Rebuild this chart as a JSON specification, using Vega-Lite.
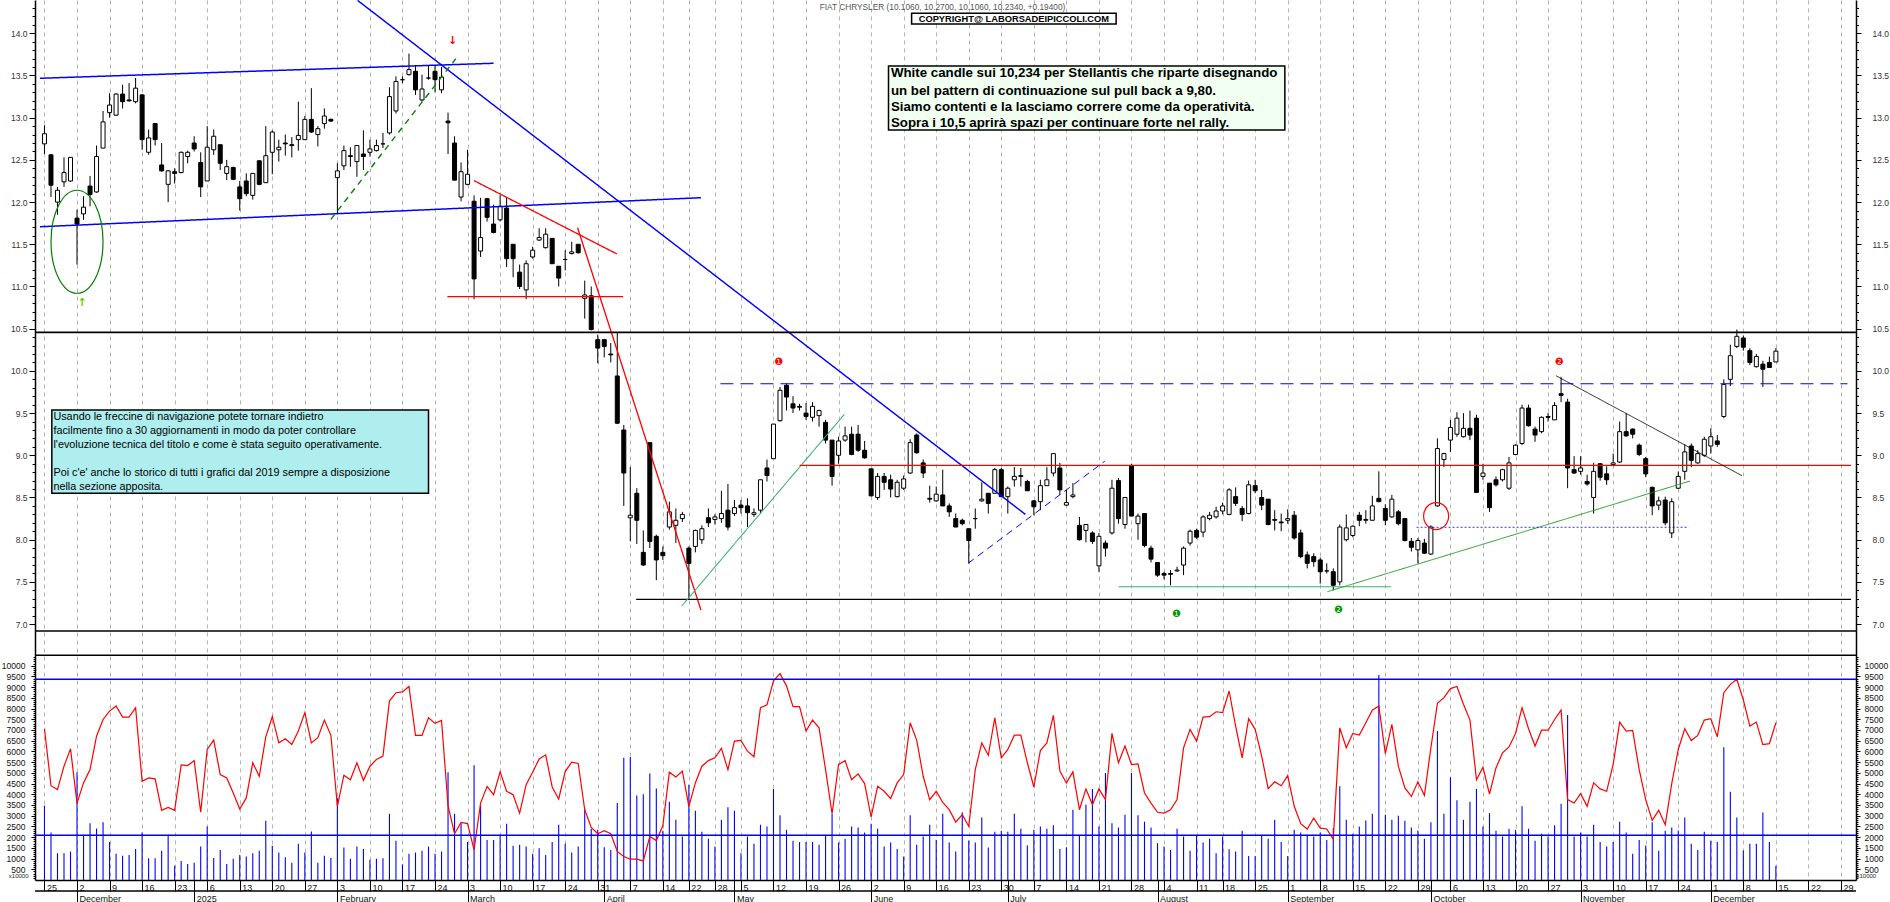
{
"$schema": "https://vega.github.io/schema/vega-lite/v6.json",
"width": 1821, "height": 880,
"autosize": "none",
"padding": {"left": 35, "top": 0, "right": 34, "bottom": 22},
"background": "white",
"config": {"view": {"stroke": null}, "font": "Liberation Sans", "axis": {"labelFont": "Liberation Sans"}},
"resolve": {"scale": {"y": "independent", "color": "independent", "strokeDash": "independent", "strokeWidth": "independent", "fill": "independent"}, "axis": {"x": "independent", "y": "independent"}},
"datasets": {
"candles": [
{"i":0,"o":12.69,"h":12.91,"l":12.57,"c":12.81,"v":3470,"r":7060},
{"i":1,"o":12.56,"h":12.57,"l":12.06,"c":12.2,"v":2220,"r":4400},
{"i":2,"o":12.0,"h":12.18,"l":11.85,"c":12.14,"v":1250,"r":4220},
{"i":3,"o":12.24,"h":12.53,"l":12.18,"c":12.35,"v":1250,"r":5310},
{"i":4,"o":12.25,"h":12.53,"l":12.24,"c":12.53,"v":1330,"r":6120},
{"i":5,"o":11.81,"h":11.91,"l":11.26,"c":11.74,"v":5030,"r":3590},
{"i":6,"o":11.86,"h":12.07,"l":11.79,"c":11.94,"v":2110,"r":4530},
{"i":7,"o":12.19,"h":12.31,"l":11.95,"c":12.09,"v":2650,"r":5150},
{"i":8,"o":12.12,"h":12.67,"l":12.11,"c":12.54,"v":2400,"r":6710},
{"i":9,"o":12.64,"h":13.08,"l":12.64,"c":12.95,"v":2690,"r":7490},
{"i":10,"o":13.06,"h":13.29,"l":13.0,"c":13.15,"v":1770,"r":7880},
{"i":11,"o":13.03,"h":13.29,"l":13.02,"c":13.28,"v":1220,"r":8120},
{"i":12,"o":13.28,"h":13.39,"l":13.11,"c":13.19,"v":1130,"r":7600},
{"i":13,"o":13.21,"h":13.41,"l":13.19,"c":13.2,"v":1170,"r":7600},
{"i":14,"o":13.19,"h":13.47,"l":13.17,"c":13.35,"v":1450,"r":8040},
{"i":15,"o":13.27,"h":13.28,"l":12.62,"c":12.74,"v":2220,"r":4610},
{"i":16,"o":12.59,"h":12.86,"l":12.56,"c":12.76,"v":1020,"r":4760},
{"i":17,"o":12.93,"h":12.93,"l":12.67,"c":12.74,"v":1020,"r":4720},
{"i":18,"o":12.44,"h":12.7,"l":12.36,"c":12.37,"v":1360,"r":3250},
{"i":19,"o":12.21,"h":12.38,"l":12.0,"c":12.37,"v":2110,"r":3390},
{"i":20,"o":12.36,"h":12.4,"l":12.22,"c":12.34,"v":660,"r":3250},
{"i":21,"o":12.35,"h":12.6,"l":12.34,"c":12.59,"v":890,"r":5370},
{"i":22,"o":12.54,"h":12.61,"l":12.46,"c":12.59,"v":750,"r":5340},
{"i":23,"o":12.7,"h":12.78,"l":12.6,"c":12.63,"v":810,"r":5570},
{"i":24,"o":12.47,"h":12.59,"l":12.06,"c":12.18,"v":1560,"r":3160},
{"i":25,"o":12.25,"h":12.9,"l":12.25,"c":12.65,"v":2500,"r":6090},
{"i":26,"o":12.62,"h":12.86,"l":12.56,"c":12.78,"v":1030,"r":6530},
{"i":27,"o":12.68,"h":12.68,"l":12.38,"c":12.46,"v":1400,"r":4920},
{"i":28,"o":12.34,"h":12.5,"l":12.26,"c":12.42,"v":750,"r":4760},
{"i":29,"o":12.41,"h":12.42,"l":12.26,"c":12.27,"v":990,"r":4060},
{"i":30,"o":12.18,"h":12.25,"l":11.9,"c":12.04,"v":1170,"r":3310},
{"i":31,"o":12.25,"h":12.34,"l":12.07,"c":12.1,"v":1100,"r":3830},
{"i":32,"o":12.08,"h":12.34,"l":12.03,"c":12.34,"v":1250,"r":5470},
{"i":33,"o":12.49,"h":12.49,"l":12.2,"c":12.21,"v":1360,"r":4840},
{"i":34,"o":12.23,"h":12.9,"l":12.23,"c":12.55,"v":2770,"r":6680},
{"i":35,"o":12.59,"h":12.85,"l":12.33,"c":12.83,"v":1600,"r":7620},
{"i":36,"o":12.62,"h":12.74,"l":12.48,"c":12.65,"v":1280,"r":6400},
{"i":37,"o":12.7,"h":12.8,"l":12.55,"c":12.69,"v":1060,"r":6590},
{"i":38,"o":12.68,"h":12.77,"l":12.53,"c":12.67,"v":810,"r":6320},
{"i":39,"o":12.74,"h":13.19,"l":12.61,"c":12.79,"v":1690,"r":6950},
{"i":40,"o":12.74,"h":13.02,"l":12.74,"c":12.98,"v":1280,"r":7810},
{"i":41,"o":12.98,"h":13.35,"l":12.82,"c":12.83,"v":2260,"r":6400},
{"i":42,"o":12.8,"h":12.9,"l":12.66,"c":12.87,"v":810,"r":6640},
{"i":43,"o":12.93,"h":13.11,"l":12.87,"c":13.02,"v":1130,"r":7460},
{"i":44,"o":12.98,"h":12.99,"l":12.95,"c":12.96,"v":1030,"r":6750},
{"i":45,"o":12.29,"h":12.46,"l":11.87,"c":12.37,"v":3830,"r":3440},
{"i":46,"o":12.43,"h":12.67,"l":12.38,"c":12.61,"v":1520,"r":4890},
{"i":47,"o":12.55,"h":12.65,"l":12.42,"c":12.54,"v":990,"r":4680},
{"i":48,"o":12.48,"h":12.67,"l":12.3,"c":12.67,"v":1560,"r":5470},
{"i":49,"o":12.57,"h":12.85,"l":12.38,"c":12.54,"v":1450,"r":4650},
{"i":50,"o":12.59,"h":12.74,"l":12.54,"c":12.63,"v":940,"r":5310},
{"i":51,"o":12.61,"h":12.74,"l":12.6,"c":12.67,"v":990,"r":5620},
{"i":52,"o":12.69,"h":12.82,"l":12.64,"c":12.69,"v":1020,"r":5780},
{"i":53,"o":12.82,"h":13.36,"l":12.8,"c":13.25,"v":3090,"r":8350},
{"i":54,"o":13.08,"h":13.49,"l":13.05,"c":13.43,"v":1830,"r":8740},
{"i":55,"o":13.45,"h":13.49,"l":13.41,"c":13.45,"v":730,"r":8780},
{"i":56,"o":13.51,"h":13.76,"l":13.5,"c":13.57,"v":1220,"r":9030},
{"i":57,"o":13.55,"h":13.62,"l":13.27,"c":13.33,"v":1280,"r":6750},
{"i":58,"o":13.21,"h":13.51,"l":13.19,"c":13.34,"v":1360,"r":6750},
{"i":59,"o":13.47,"h":13.62,"l":13.45,"c":13.47,"v":1560,"r":7570},
{"i":60,"o":13.55,"h":13.62,"l":13.3,"c":13.45,"v":1220,"r":7310},
{"i":61,"o":13.33,"h":13.6,"l":13.29,"c":13.48,"v":1330,"r":7450},
{"i":62,"o":12.96,"h":13.06,"l":12.57,"c":12.94,"v":5030,"r":3470},
{"i":63,"o":12.7,"h":12.78,"l":12.26,"c":12.26,"v":3090,"r":2160},
{"i":64,"o":12.06,"h":12.47,"l":12.01,"c":12.36,"v":2650,"r":2690},
{"i":65,"o":12.21,"h":12.62,"l":12.2,"c":12.33,"v":1770,"r":2630},
{"i":66,"o":12.01,"h":12.08,"l":10.85,"c":11.09,"v":5360,"r":1410},
{"i":67,"o":11.42,"h":12.05,"l":11.35,"c":11.58,"v":3480,"r":3590},
{"i":68,"o":12.04,"h":12.05,"l":11.77,"c":11.82,"v":1870,"r":4370},
{"i":69,"o":11.74,"h":11.97,"l":11.63,"c":11.64,"v":1870,"r":3980},
{"i":70,"o":11.79,"h":12.08,"l":11.77,"c":11.95,"v":2110,"r":5050},
{"i":71,"o":11.93,"h":12.06,"l":11.23,"c":11.33,"v":2620,"r":4140},
{"i":72,"o":11.5,"h":11.5,"l":11.11,"c":11.33,"v":1600,"r":3980},
{"i":73,"o":11.17,"h":11.26,"l":10.97,"c":11.0,"v":1640,"r":3120},
{"i":74,"o":10.96,"h":11.31,"l":10.85,"c":11.27,"v":1560,"r":4450},
{"i":75,"o":11.35,"h":11.47,"l":11.33,"c":11.43,"v":1220,"r":5030},
{"i":76,"o":11.55,"h":11.69,"l":11.54,"c":11.58,"v":1480,"r":5650},
{"i":77,"o":11.46,"h":11.69,"l":11.45,"c":11.62,"v":1170,"r":5840},
{"i":78,"o":11.57,"h":11.57,"l":11.27,"c":11.27,"v":1770,"r":4340},
{"i":79,"o":11.24,"h":11.24,"l":11.0,"c":11.1,"v":2580,"r":3780},
{"i":80,"o":11.32,"h":11.43,"l":11.19,"c":11.32,"v":1690,"r":5060},
{"i":81,"o":11.39,"h":11.53,"l":11.38,"c":11.41,"v":1280,"r":5500},
{"i":82,"o":11.5,"h":11.5,"l":11.39,"c":11.4,"v":1560,"r":5440},
{"i":83,"o":10.86,"h":11.07,"l":10.62,"c":10.9,"v":3310,"r":3280},
{"i":84,"o":10.89,"h":11.0,"l":10.48,"c":10.49,"v":2390,"r":2450},
{"i":85,"o":10.37,"h":10.43,"l":10.09,"c":10.27,"v":2340,"r":2160},
{"i":86,"o":10.37,"h":10.38,"l":10.16,"c":10.29,"v":1530,"r":2300},
{"i":87,"o":10.2,"h":10.33,"l":10.1,"c":10.19,"v":1400,"r":2160},
{"i":88,"o":9.94,"h":10.45,"l":9.37,"c":9.38,"v":3590,"r":1330},
{"i":89,"o":9.3,"h":9.36,"l":8.4,"c":8.79,"v":5700,"r":1100},
{"i":90,"o":8.26,"h":8.86,"l":7.98,"c":8.29,"v":5740,"r":970},
{"i":91,"o":8.55,"h":8.61,"l":7.95,"c":8.23,"v":3940,"r":970},
{"i":92,"o":7.85,"h":8.11,"l":7.69,"c":7.7,"v":4000,"r":890},
{"i":93,"o":9.15,"h":9.15,"l":7.9,"c":7.98,"v":4970,"r":2030},
{"i":94,"o":8.04,"h":8.06,"l":7.52,"c":7.76,"v":4270,"r":1840},
{"i":95,"o":7.85,"h":7.92,"l":7.76,"c":7.81,"v":2300,"r":2530},
{"i":96,"o":8.15,"h":8.45,"l":8.12,"c":8.33,"v":3650,"r":5030},
{"i":97,"o":8.17,"h":8.37,"l":7.96,"c":8.23,"v":2810,"r":4810},
{"i":98,"o":8.25,"h":8.33,"l":8.21,"c":8.3,"v":2030,"r":5080},
{"i":99,"o":7.9,"h":7.92,"l":7.29,"c":7.72,"v":4450,"r":3440},
{"i":100,"o":7.92,"h":8.12,"l":7.85,"c":8.11,"v":3230,"r":4530},
{"i":101,"o":8.0,"h":8.17,"l":7.95,"c":8.13,"v":2250,"r":5310},
{"i":102,"o":8.26,"h":8.37,"l":8.15,"c":8.2,"v":1920,"r":5570},
{"i":103,"o":8.24,"h":8.3,"l":8.18,"c":8.27,"v":1560,"r":5700},
{"i":104,"o":8.25,"h":8.58,"l":8.2,"c":8.31,"v":2810,"r":6140},
{"i":105,"o":8.35,"h":8.66,"l":8.11,"c":8.15,"v":3390,"r":5150},
{"i":106,"o":8.31,"h":8.47,"l":8.28,"c":8.38,"v":3230,"r":6480},
{"i":107,"o":8.41,"h":8.47,"l":8.31,"c":8.38,"v":1250,"r":6510},
{"i":108,"o":8.4,"h":8.49,"l":8.15,"c":8.32,"v":2030,"r":6010},
{"i":109,"o":8.3,"h":8.37,"l":8.27,"c":8.32,"v":1690,"r":5750},
{"i":110,"o":8.35,"h":8.71,"l":8.31,"c":8.71,"v":2580,"r":8040},
{"i":111,"o":8.85,"h":8.95,"l":8.69,"c":8.76,"v":2500,"r":8170},
{"i":112,"o":8.96,"h":9.37,"l":8.96,"c":9.37,"v":4250,"r":9290},
{"i":113,"o":9.41,"h":9.81,"l":9.4,"c":9.77,"v":3020,"r":9630},
{"i":114,"o":9.83,"h":9.85,"l":9.53,"c":9.69,"v":2340,"r":9060},
{"i":115,"o":9.61,"h":9.7,"l":9.5,"c":9.56,"v":1830,"r":8090},
{"i":116,"o":9.58,"h":9.61,"l":9.53,"c":9.57,"v":1770,"r":8090},
{"i":117,"o":9.5,"h":9.62,"l":9.42,"c":9.46,"v":1770,"r":6950},
{"i":118,"o":9.45,"h":9.63,"l":9.4,"c":9.58,"v":1770,"r":7460},
{"i":119,"o":9.47,"h":9.54,"l":9.34,"c":9.53,"v":1640,"r":7100},
{"i":120,"o":9.39,"h":9.42,"l":9.14,"c":9.18,"v":2080,"r":5150},
{"i":121,"o":9.18,"h":9.18,"l":8.64,"c":8.75,"v":3080,"r":3090},
{"i":122,"o":9.0,"h":9.22,"l":8.9,"c":9.17,"v":1750,"r":5390},
{"i":123,"o":9.18,"h":9.34,"l":9.16,"c":9.23,"v":1920,"r":5570},
{"i":124,"o":9.25,"h":9.34,"l":9.0,"c":9.01,"v":2500,"r":4680},
{"i":125,"o":9.25,"h":9.36,"l":9.04,"c":9.06,"v":2450,"r":4950},
{"i":126,"o":9.06,"h":9.17,"l":8.96,"c":8.97,"v":2220,"r":4500},
{"i":127,"o":8.84,"h":8.84,"l":8.51,"c":8.52,"v":2620,"r":2940},
{"i":128,"o":8.5,"h":8.79,"l":8.47,"c":8.75,"v":2390,"r":4370},
{"i":129,"o":8.75,"h":8.79,"l":8.59,"c":8.68,"v":1560,"r":4140},
{"i":130,"o":8.71,"h":8.77,"l":8.5,"c":8.6,"v":1750,"r":3800},
{"i":131,"o":8.51,"h":8.71,"l":8.5,"c":8.68,"v":1450,"r":4530},
{"i":132,"o":8.61,"h":8.76,"l":8.59,"c":8.72,"v":1100,"r":4920},
{"i":133,"o":8.79,"h":9.19,"l":8.78,"c":9.15,"v":3020,"r":7340},
{"i":134,"o":9.24,"h":9.26,"l":9.02,"c":9.03,"v":1640,"r":6530},
{"i":135,"o":8.91,"h":8.95,"l":8.73,"c":8.79,"v":2030,"r":4840},
{"i":136,"o":8.49,"h":8.64,"l":8.44,"c":8.48,"v":2580,"r":3750},
{"i":137,"o":8.46,"h":8.63,"l":8.45,"c":8.54,"v":1870,"r":4140},
{"i":138,"o":8.53,"h":8.83,"l":8.4,"c":8.4,"v":3090,"r":3620},
{"i":139,"o":8.4,"h":8.43,"l":8.27,"c":8.33,"v":1750,"r":3280},
{"i":140,"o":8.25,"h":8.31,"l":8.15,"c":8.15,"v":1330,"r":2700},
{"i":141,"o":8.23,"h":8.25,"l":8.17,"c":8.19,"v":3160,"r":3050},
{"i":142,"o":8.13,"h":8.13,"l":7.72,"c":7.99,"v":1840,"r":2500},
{"i":143,"o":8.25,"h":8.37,"l":8.13,"c":8.25,"v":1750,"r":5150},
{"i":144,"o":8.46,"h":8.68,"l":8.45,"c":8.48,"v":2920,"r":6400},
{"i":145,"o":8.55,"h":8.55,"l":8.31,"c":8.43,"v":1520,"r":5820},
{"i":146,"o":8.55,"h":8.85,"l":8.55,"c":8.83,"v":2250,"r":7570},
{"i":147,"o":8.83,"h":8.85,"l":8.51,"c":8.51,"v":2300,"r":5700},
{"i":148,"o":8.51,"h":8.63,"l":8.31,"c":8.61,"v":2250,"r":6090},
{"i":149,"o":8.71,"h":8.86,"l":8.63,"c":8.75,"v":3090,"r":6760},
{"i":150,"o":8.76,"h":8.85,"l":8.63,"c":8.75,"v":2390,"r":6760},
{"i":151,"o":8.69,"h":8.71,"l":8.58,"c":8.58,"v":1610,"r":5470},
{"i":152,"o":8.46,"h":8.47,"l":8.29,"c":8.39,"v":2340,"r":4340},
{"i":153,"o":8.45,"h":8.71,"l":8.35,"c":8.64,"v":2500,"r":6040},
{"i":154,"o":8.64,"h":8.86,"l":8.64,"c":8.71,"v":2390,"r":6400},
{"i":155,"o":8.79,"h":9.02,"l":8.75,"c":9.02,"v":2550,"r":7680},
{"i":156,"o":8.85,"h":8.91,"l":8.53,"c":8.59,"v":1450,"r":5080},
{"i":157,"o":8.41,"h":8.59,"l":8.4,"c":8.44,"v":1530,"r":4530},
{"i":158,"o":8.51,"h":8.67,"l":8.49,"c":8.53,"v":3280,"r":5050},
{"i":159,"o":8.17,"h":8.27,"l":7.99,"c":8.0,"v":2080,"r":3280},
{"i":160,"o":8.11,"h":8.18,"l":7.97,"c":8.18,"v":3510,"r":4250},
{"i":161,"o":8.08,"h":8.1,"l":7.95,"c":7.98,"v":4250,"r":3520},
{"i":162,"o":7.69,"h":8.08,"l":7.62,"c":8.04,"v":2500,"r":4250},
{"i":163,"o":7.96,"h":7.99,"l":7.8,"c":7.9,"v":4990,"r":3750},
{"i":164,"o":8.08,"h":8.71,"l":8.06,"c":8.61,"v":2650,"r":6840},
{"i":165,"o":8.7,"h":8.73,"l":8.19,"c":8.25,"v":2450,"r":5470},
{"i":166,"o":8.18,"h":8.5,"l":8.13,"c":8.5,"v":3050,"r":6250},
{"i":167,"o":8.88,"h":8.9,"l":8.28,"c":8.28,"v":4990,"r":5390},
{"i":168,"o":8.19,"h":8.31,"l":8.0,"c":8.28,"v":3020,"r":5420},
{"i":169,"o":8.31,"h":8.31,"l":7.91,"c":7.93,"v":2720,"r":4060},
{"i":170,"o":7.9,"h":7.93,"l":7.73,"c":7.77,"v":2450,"r":3590},
{"i":171,"o":7.73,"h":7.73,"l":7.56,"c":7.58,"v":1720,"r":3160},
{"i":172,"o":7.6,"h":7.62,"l":7.53,"c":7.58,"v":1560,"r":3120},
{"i":173,"o":7.6,"h":7.64,"l":7.46,"c":7.59,"v":1400,"r":3280},
{"i":174,"o":7.63,"h":7.68,"l":7.62,"c":7.64,"v":2390,"r":3750},
{"i":175,"o":7.7,"h":7.92,"l":7.58,"c":7.9,"v":2030,"r":6170},
{"i":176,"o":7.96,"h":8.12,"l":7.93,"c":8.1,"v":1360,"r":7030},
{"i":177,"o":8.11,"h":8.13,"l":8.01,"c":8.03,"v":2080,"r":6480},
{"i":178,"o":8.09,"h":8.29,"l":8.03,"c":8.27,"v":1750,"r":7600},
{"i":179,"o":8.25,"h":8.33,"l":8.23,"c":8.29,"v":1920,"r":7620},
{"i":180,"o":8.27,"h":8.39,"l":8.25,"c":8.34,"v":1250,"r":7850},
{"i":181,"o":8.34,"h":8.44,"l":8.3,"c":8.4,"v":2030,"r":7810},
{"i":182,"o":8.3,"h":8.61,"l":8.29,"c":8.59,"v":1440,"r":8820},
{"i":183,"o":8.51,"h":8.62,"l":8.4,"c":8.43,"v":1330,"r":7180},
{"i":184,"o":8.37,"h":8.4,"l":8.22,"c":8.3,"v":2300,"r":5700},
{"i":185,"o":8.31,"h":8.7,"l":8.3,"c":8.65,"v":1120,"r":7530},
{"i":186,"o":8.64,"h":8.71,"l":8.55,"c":8.58,"v":1120,"r":7030},
{"i":187,"o":8.5,"h":8.59,"l":8.35,"c":8.41,"v":2080,"r":5780},
{"i":188,"o":8.48,"h":8.48,"l":8.17,"c":8.18,"v":1920,"r":4260},
{"i":189,"o":8.24,"h":8.35,"l":8.11,"c":8.23,"v":2810,"r":4580},
{"i":190,"o":8.21,"h":8.31,"l":8.1,"c":8.2,"v":1770,"r":4400},
{"i":191,"o":8.23,"h":8.36,"l":8.19,"c":8.25,"v":1120,"r":4870},
{"i":192,"o":8.29,"h":8.34,"l":8.0,"c":8.02,"v":2340,"r":3440},
{"i":193,"o":8.08,"h":8.12,"l":7.78,"c":7.8,"v":2220,"r":2630},
{"i":194,"o":7.82,"h":7.86,"l":7.66,"c":7.72,"v":2110,"r":2380},
{"i":195,"o":7.8,"h":7.84,"l":7.68,"c":7.74,"v":2030,"r":2890},
{"i":196,"o":7.76,"h":7.79,"l":7.48,"c":7.62,"v":2220,"r":2420},
{"i":197,"o":7.63,"h":7.72,"l":7.6,"c":7.63,"v":1870,"r":2380},
{"i":198,"o":7.62,"h":7.66,"l":7.4,"c":7.46,"v":2420,"r":1900},
{"i":199,"o":7.5,"h":8.18,"l":7.46,"c":8.15,"v":4370,"r":7100},
{"i":200,"o":8.0,"h":8.3,"l":7.98,"c":8.14,"v":2810,"r":6170},
{"i":201,"o":8.05,"h":8.17,"l":8.03,"c":8.16,"v":2160,"r":6840},
{"i":202,"o":8.29,"h":8.33,"l":8.16,"c":8.23,"v":2500,"r":6760},
{"i":203,"o":8.23,"h":8.35,"l":8.19,"c":8.24,"v":2780,"r":7340},
{"i":204,"o":8.23,"h":8.52,"l":8.23,"c":8.4,"v":3090,"r":7920},
{"i":205,"o":8.49,"h":8.81,"l":8.45,"c":8.45,"v":9570,"r":8120},
{"i":206,"o":8.37,"h":8.42,"l":8.17,"c":8.23,"v":3050,"r":5900},
{"i":207,"o":8.27,"h":8.53,"l":8.26,"c":8.48,"v":2810,"r":7260},
{"i":208,"o":8.33,"h":8.35,"l":8.17,"c":8.19,"v":3000,"r":5310},
{"i":209,"o":8.25,"h":8.25,"l":7.98,"c":7.99,"v":2770,"r":4300},
{"i":210,"o":7.98,"h":8.02,"l":7.86,"c":7.91,"v":2450,"r":3900},
{"i":211,"o":7.88,"h":8.02,"l":7.72,"c":7.99,"v":2310,"r":4580},
{"i":212,"o":7.96,"h":8.01,"l":7.83,"c":7.84,"v":1920,"r":3950},
{"i":213,"o":7.83,"h":8.17,"l":7.82,"c":8.15,"v":2690,"r":6170},
{"i":214,"o":8.4,"h":9.2,"l":8.39,"c":9.08,"v":6950,"r":8240},
{"i":215,"o":8.95,"h":9.03,"l":8.86,"c":9.02,"v":3090,"r":8510},
{"i":216,"o":9.18,"h":9.42,"l":9.04,"c":9.33,"v":4800,"r":8930},
{"i":217,"o":9.25,"h":9.51,"l":9.22,"c":9.44,"v":3720,"r":9030},
{"i":218,"o":9.22,"h":9.5,"l":9.21,"c":9.32,"v":2810,"r":8200},
{"i":219,"o":9.32,"h":9.53,"l":9.18,"c":9.24,"v":3650,"r":7460},
{"i":220,"o":9.44,"h":9.48,"l":8.56,"c":8.56,"v":4250,"r":4680},
{"i":221,"o":8.75,"h":8.9,"l":8.71,"c":8.79,"v":2500,"r":5260},
{"i":222,"o":8.67,"h":8.67,"l":8.33,"c":8.38,"v":3120,"r":4010},
{"i":223,"o":8.71,"h":8.75,"l":8.63,"c":8.65,"v":2300,"r":5230},
{"i":224,"o":8.71,"h":8.84,"l":8.69,"c":8.83,"v":2030,"r":5930},
{"i":225,"o":8.61,"h":8.98,"l":8.59,"c":8.91,"v":2390,"r":6210},
{"i":226,"o":9.01,"h":9.13,"l":9.0,"c":9.12,"v":2340,"r":6840},
{"i":227,"o":9.14,"h":9.6,"l":9.12,"c":9.56,"v":3440,"r":8040},
{"i":228,"o":9.56,"h":9.6,"l":9.34,"c":9.35,"v":2390,"r":7060},
{"i":229,"o":9.31,"h":9.34,"l":9.16,"c":9.24,"v":1830,"r":6250},
{"i":230,"o":9.28,"h":9.46,"l":9.26,"c":9.45,"v":2160,"r":6990},
{"i":231,"o":9.46,"h":9.5,"l":9.4,"c":9.45,"v":2030,"r":6990},
{"i":232,"o":9.42,"h":9.63,"l":9.42,"c":9.59,"v":2550,"r":7490},
{"i":233,"o":9.73,"h":9.93,"l":9.63,"c":9.71,"v":3560,"r":7930},
{"i":234,"o":9.63,"h":9.67,"l":8.61,"c":8.85,"v":7700,"r":3750},
{"i":235,"o":8.83,"h":8.99,"l":8.78,"c":8.79,"v":2030,"r":3590},
{"i":236,"o":8.81,"h":8.99,"l":8.77,"c":8.85,"v":2220,"r":4030},
{"i":237,"o":8.69,"h":8.77,"l":8.64,"c":8.66,"v":2030,"r":3440},
{"i":238,"o":8.5,"h":8.91,"l":8.31,"c":8.81,"v":2580,"r":4530},
{"i":239,"o":8.9,"h":8.91,"l":8.7,"c":8.74,"v":1770,"r":4250},
{"i":240,"o":8.78,"h":8.87,"l":8.65,"c":8.71,"v":1560,"r":4140},
{"i":241,"o":8.89,"h":9.02,"l":8.87,"c":8.91,"v":1770,"r":5390},
{"i":242,"o":8.92,"h":9.4,"l":8.91,"c":9.28,"v":2720,"r":7370},
{"i":243,"o":9.28,"h":9.5,"l":9.22,"c":9.23,"v":2220,"r":6950},
{"i":244,"o":9.31,"h":9.32,"l":9.2,"c":9.25,"v":1220,"r":6980},
{"i":245,"o":9.12,"h":9.14,"l":8.99,"c":9.01,"v":1870,"r":5150},
{"i":246,"o":8.96,"h":8.98,"l":8.74,"c":8.78,"v":1610,"r":3750},
{"i":247,"o":8.62,"h":8.63,"l":8.29,"c":8.4,"v":2690,"r":2780},
{"i":248,"o":8.41,"h":8.51,"l":8.35,"c":8.46,"v":1360,"r":3250},
{"i":249,"o":8.47,"h":8.51,"l":8.17,"c":8.2,"v":2300,"r":2580},
{"i":250,"o":8.08,"h":8.49,"l":8.02,"c":8.45,"v":2450,"r":4500},
{"i":251,"o":8.61,"h":8.81,"l":8.6,"c":8.75,"v":2310,"r":6090},
{"i":252,"o":8.81,"h":9.13,"l":8.71,"c":9.04,"v":2920,"r":7060},
{"i":253,"o":9.11,"h":9.14,"l":8.86,"c":8.94,"v":1690,"r":6510},
{"i":254,"o":8.91,"h":9.06,"l":8.9,"c":9.02,"v":1400,"r":6750},
{"i":255,"o":9.0,"h":9.22,"l":8.98,"c":9.19,"v":2250,"r":7460},
{"i":256,"o":9.11,"h":9.32,"l":9.02,"c":9.22,"v":1830,"r":7530},
{"i":257,"o":9.17,"h":9.24,"l":9.1,"c":9.13,"v":1770,"r":6680},
{"i":258,"o":9.46,"h":9.9,"l":9.44,"c":9.84,"v":6200,"r":8740},
{"i":259,"o":9.9,"h":10.31,"l":9.82,"c":10.18,"v":4120,"r":9130},
{"i":260,"o":10.29,"h":10.49,"l":10.27,"c":10.41,"v":2920,"r":9370},
{"i":261,"o":10.39,"h":10.42,"l":10.24,"c":10.28,"v":1380,"r":8400},
{"i":262,"o":10.24,"h":10.27,"l":10.07,"c":10.1,"v":1690,"r":7180},
{"i":263,"o":10.05,"h":10.2,"l":10.04,"c":10.17,"v":1690,"r":7370},
{"i":264,"o":10.08,"h":10.12,"l":9.81,"c":10.02,"v":3150,"r":6320},
{"i":265,"o":10.1,"h":10.17,"l":10.04,"c":10.04,"v":1770,"r":6360},
{"i":266,"o":10.106,"h":10.27,"l":10.106,"c":10.234,"v":660,"r":7340}
],
"segs": [
{"x1":-0.69,"y1":13.467,"x2":69.0,"y2":13.645,"k":"blue"},
{"x1":-0.69,"y1":11.708,"x2":100.85,"y2":12.052,"k":"blue"},
{"x1":48.1,"y1":14.39,"x2":150.7,"y2":8.3,"k":"blueThin"},
{"x1":44.0,"y1":11.796,"x2":63.2,"y2":13.7,"k":"greenDash"},
{"x1":66.0,"y1":12.254,"x2":87.95,"y2":11.385,"k":"red"},
{"x1":61.9,"y1":10.879,"x2":88.9,"y2":10.879,"k":"redH"},
{"x1":81.9,"y1":11.697,"x2":100.85,"y2":7.167,"k":"red"},
{"x1":90.9,"y1":7.294,"x2":277.54,"y2":7.294,"k":"black"},
{"x1":103.85,"y1":9.848,"x2":277.0,"y2":9.848,"k":"blueDash"},
{"x1":97.9,"y1":7.214,"x2":122.9,"y2":9.486,"k":"sea"},
{"x1":116.0,"y1":8.881,"x2":277.54,"y2":8.881,"k":"redH"},
{"x1":141.9,"y1":7.72,"x2":162.9,"y2":8.93,"k":"blueDash2"},
{"x1":165.0,"y1":7.443,"x2":206.9,"y2":7.443,"k":"sea"},
{"x1":197.1,"y1":7.384,"x2":252.8,"y2":8.695,"k":"green"},
{"x1":232.2,"y1":9.943,"x2":260.8,"y2":8.758,"k":"blackThin"},
{"x1":210.8,"y1":8.147,"x2":252.6,"y2":8.147,"k":"blueDot"}
]
},
"layer": [
{
"data": {"name": "candles"},
"mark": {"type": "rule", "color": "black", "strokeWidth": 1},
"encoding": {
"x": {"field": "i", "type": "quantitative", "scale": {"domain": [-0.6875, 277.54], "nice": false, "zero": false},
 "axis": {"orient": "bottom", "title": null,
  "values": [0,5,10,15,20,25,30,35,40,45,50,55,60,65,70,75,80,85,90,95,99,103,107,112,117,122,127,132,137,142,147,152,157,162,167,172,177,181,186,191,196,201,206,211,216,221,226,231,236,241,246,251,256,261,266,271,276],
  "labelExpr": "['25','2','9','16','23','6','13','20','27','3','10','17','24','3','10','17','24','31','7','14','22','28','5','12','19','26','2','9','16','23','30','7','14','21','28','4','11','18','25','1','8','15','22','29','6','13','20','27','3','10','17','24','1','8','15','22','29'][indexof([0,5,10,15,20,25,30,35,40,45,50,55,60,65,70,75,80,85,90,95,99,103,107,112,117,122,127,132,137,142,147,152,157,162,167,172,177,181,186,191,196,201,206,211,216,221,226,231,236,241,246,251,256,261,266,271,276], datum.value)]",
  "grid": true, "gridDash": [4,4], "gridColor": "#b4b4b4", "gridWidth": 1,
  "domain": true, "domainColor": "black", "domainWidth": 1.5,
  "ticks": true, "tickSize": 11, "tickColor": "black", "tickWidth": 1,
  "labelAlign": "left", "labelBaseline": "top", "labelPadding": -8, "labelOffset": 2,
  "labelFontSize": 9, "labelColor": "#111", "labelOverlap": false, "labelFlush": false, "labelBound": false}},
"y": {"field": "l", "type": "quantitative", "scale": {"domain": [3.968, 14.3945], "nice": false, "zero": false},
 "axis": {"orient": "left", "title": null,
  "values": [7,7.1,7.2,7.3,7.4,7.5,7.6,7.7,7.8,7.9,8,8.1,8.2,8.3,8.4,8.5,8.6,8.7,8.8,8.9,9,9.1,9.2,9.3,9.4,9.5,9.6,9.7,9.8,9.9,10,10.1,10.2,10.3,10.4,10.5,10.6,10.7,10.8,10.9,11,11.1,11.2,11.3,11.4,11.5,11.6,11.7,11.8,11.9,12,12.1,12.2,12.3,12.4,12.5,12.6,12.7,12.8,12.9,13,13.1,13.2,13.3,13.4,13.5,13.6,13.7,13.8,13.9,14,14.1,14.2,14.3],
  "labelExpr": "abs(datum.value*2 - round(datum.value*2)) < 0.01 ? format(datum.value, '.1f') : ''",
  "grid": false, "domain": true, "domainColor": "black", "domainWidth": 1.5,
  "tickColor": "black", "tickWidth": 1,
  "tickSize": {"condition": {"test": "abs(datum.value*2 - round(datum.value*2)) < 0.01", "value": 6}, "value": 3},
  "labelPadding": 2, "labelFontSize": 8.5, "labelColor": "#333", "labelOverlap": false, "labelFlush": false, "labelBound": false}},
"y2": {"field": "h"}
}
},
{
"data": {"name": "candles"},
"mark": {"type": "bar", "size": 4, "stroke": "black", "strokeWidth": 1},
"encoding": {
"x": {"field": "i", "type": "quantitative", "scale": {"domain": [-0.6875, 277.54], "nice": false, "zero": false}, "axis": null},
"y": {"field": "o", "type": "quantitative", "scale": {"domain": [3.968, 14.3945], "nice": false, "zero": false},
 "axis": {"orient": "right", "title": null,
  "values": [7,7.1,7.2,7.3,7.4,7.5,7.6,7.7,7.8,7.9,8,8.1,8.2,8.3,8.4,8.5,8.6,8.7,8.8,8.9,9,9.1,9.2,9.3,9.4,9.5,9.6,9.7,9.8,9.9,10,10.1,10.2,10.3,10.4,10.5,10.6,10.7,10.8,10.9,11,11.1,11.2,11.3,11.4,11.5,11.6,11.7,11.8,11.9,12,12.1,12.2,12.3,12.4,12.5,12.6,12.7,12.8,12.9,13,13.1,13.2,13.3,13.4,13.5,13.6,13.7,13.8,13.9,14,14.1,14.2,14.3],
  "labelExpr": "abs(datum.value*2 - round(datum.value*2)) < 0.01 ? format(datum.value, '.1f') : ''",
  "grid": false, "domain": true, "domainColor": "black", "domainWidth": 1.5,
  "tickColor": "black", "tickWidth": 1,
  "tickSize": {"condition": {"test": "abs(datum.value*2 - round(datum.value*2)) < 0.01", "value": 5}, "value": 2.5},
  "labelPadding": 11, "labelFontSize": 8.5, "labelColor": "#333", "labelOverlap": false, "labelFlush": false, "labelBound": false}},
"y2": {"field": "c"},
"fill": {"condition": {"test": "datum.c >= datum.o", "value": "white"}, "value": "black"}
}
},
{
"data": {"name": "segs"},
"mark": {"type": "rule"},
"encoding": {
"x": {"field": "x1", "type": "quantitative", "scale": {"domain": [-0.6875, 277.54], "nice": false, "zero": false}, "axis": null},
"x2": {"field": "x2"},
"y": {"field": "y1", "type": "quantitative", "scale": {"domain": [3.968, 14.3945], "nice": false, "zero": false}, "axis": null},
"y2": {"field": "y2"},
"color": {"field": "k", "type": "nominal", "legend": null, "scale": {"domain": ["blue","blueThin","greenDash","red","redH","black","blueDash","sea","blueDash2","green","blackThin","blueDot"], "range": ["#0000ff","#0000ff","#008000","#ff0000","#ff0000","#000000","#0000ff","#3cb371","#0000ff","#129612","#000000","#0000ff"]}},
"strokeDash": {"field": "k", "type": "nominal", "legend": null, "scale": {"domain": ["blue","blueThin","greenDash","red","redH","black","blueDash","sea","blueDash2","green","blackThin","blueDot"], "range": [[1,0],[1,0],[6,5],[1,0],[1,0],[1,0],[13,7],[1,0],[7,5],[1,0],[1,0],[2,2]]}},
"strokeWidth": {"field": "k", "type": "ordinal", "legend": null, "scale": {"domain": ["blue","blueThin","greenDash","red","redH","black","blueDash","sea","blueDash2","green","blackThin","blueDot"], "range": [1.5,0.8,1,1,1.5,1.5,1.5,1,1,1.5,0.9,1]}}
}
},
{
"data": {"values": [{"p": 10.457}, {"p": 6.918}]},
"mark": {"type": "rule", "color": "black", "strokeWidth": 1.6},
"encoding": {
"y": {"field": "p", "type": "quantitative", "scale": {"domain": [3.968, 14.3945], "nice": false, "zero": false}, "axis": null}
}
},
{
"data": {"values": [{"i": 5.0, "p": 11.53}]},
"mark": {"type": "point", "shape": "M -0.505 0 A 0.505 1 0 1 0 0.505 0 A 0.505 1 0 1 0 -0.505 0 Z", "size": 10609, "stroke": "#008000", "strokeWidth": 1.2, "filled": false, "opacity": 1},
"encoding": {
"x": {"field": "i", "type": "quantitative", "scale": {"domain": [-0.6875, 277.54], "nice": false, "zero": false}, "axis": null},
"y": {"field": "p", "type": "quantitative", "scale": {"domain": [3.968, 14.3945], "nice": false, "zero": false}, "axis": null}
}
},
{
"data": {"values": [{"i": 213.8, "p": 8.28}]},
"mark": {"type": "point", "shape": "M -0.926 0 A 0.926 1 0 1 0 0.926 0 A 0.926 1 0 1 0 -0.926 0 Z", "size": 729, "stroke": "#ff0000", "strokeWidth": 1.2, "filled": false, "opacity": 1},
"encoding": {
"x": {"field": "i", "type": "quantitative", "scale": {"domain": [-0.6875, 277.54], "nice": false, "zero": false}, "axis": null},
"y": {"field": "p", "type": "quantitative", "scale": {"domain": [3.968, 14.3945], "nice": false, "zero": false}, "axis": null}
}
},
{
"data": {"values": [{"i": 112.8, "p": 10.11, "t": "❶", "k": "r"}, {"i": 232.7, "p": 10.11, "t": "❷", "k": "r"}, {"i": 173.9, "p": 7.12, "t": "❶", "k": "g"}, {"i": 198.8, "p": 7.167, "t": "❷", "k": "g"}]},
"mark": {"type": "text", "font": "DejaVu Sans", "fontSize": 10, "align": "center", "baseline": "middle"},
"encoding": {
"x": {"field": "i", "type": "quantitative", "scale": {"domain": [-0.6875, 277.54], "nice": false, "zero": false}, "axis": null},
"y": {"field": "p", "type": "quantitative", "scale": {"domain": [3.968, 14.3945], "nice": false, "zero": false}, "axis": null},
"text": {"field": "t"},
"color": {"field": "k", "type": "nominal", "legend": null, "scale": {"domain": ["r", "g"], "range": ["#ff0000", "#009900"]}}
}
},
{
"data": {"values": [{"i": 62.7, "p": 13.91, "t": "↓", "k": "r"}, {"i": 5.8, "p": 10.8, "t": "↑", "k": "g"}]},
"mark": {"type": "text", "font": "DejaVu Sans", "fontSize": 11, "fontWeight": "bold", "align": "center", "baseline": "middle"},
"encoding": {
"x": {"field": "i", "type": "quantitative", "scale": {"domain": [-0.6875, 277.54], "nice": false, "zero": false}, "axis": null},
"y": {"field": "p", "type": "quantitative", "scale": {"domain": [3.968, 14.3945], "nice": false, "zero": false}, "axis": null},
"text": {"field": "t"},
"color": {"field": "k", "type": "nominal", "legend": null, "scale": {"domain": ["r", "g"], "range": ["#ff0000", "#66cc00"]}}
}
},
{
"data": {"values": [{"i1": 129.67, "i2": 190.56, "p1": 13.6126, "p2": 12.854, "k": "note"}, {"i1": 1.13, "i2": 59.0, "p1": 9.5367, "p2": 8.5498, "k": "info"}, {"i1": 133.22, "i2": 164.64, "p1": 14.237, "p2": 14.11, "k": "copy"}]},
"mark": {"type": "rect", "stroke": "black", "strokeWidth": 1.5},
"encoding": {
"x": {"field": "i1", "type": "quantitative", "scale": {"domain": [-0.6875, 277.54], "nice": false, "zero": false}, "axis": null},
"x2": {"field": "i2"},
"y": {"field": "p1", "type": "quantitative", "scale": {"domain": [3.968, 14.3945], "nice": false, "zero": false}, "axis": null},
"y2": {"field": "p2"},
"fill": {"field": "k", "type": "nominal", "legend": null, "scale": {"domain": ["note", "info", "copy"], "range": ["#f0fff0", "#afeeee", "#ffffff"]}}
}
},
{
"data": {"values": [
{"i": 130.04, "p": 13.526, "t": "White candle sui 10,234 per Stellantis  che riparte disegnando"},
{"i": 130.04, "p": 13.32, "t": "un bel pattern di continuazione sul pull back a 9,80."},
{"i": 130.04, "p": 13.13, "t": "Siamo contenti e la lasciamo correre come da operatività."},
{"i": 130.04, "p": 12.941, "t": "Sopra i 10,5 aprirà spazi per continuare forte nel rally."}
]},
"mark": {"type": "text", "font": "Liberation Sans", "fontSize": 13.3, "fontWeight": "bold", "align": "left", "baseline": "middle", "color": "#000000"},
"encoding": {
"x": {"field": "i", "type": "quantitative", "scale": {"domain": [-0.6875, 277.54], "nice": false, "zero": false}, "axis": null},
"y": {"field": "p", "type": "quantitative", "scale": {"domain": [3.968, 14.3945], "nice": false, "zero": false}, "axis": null},
"text": {"field": "t"}
}
},
{
"data": {"values": [
{"i": 1.375, "p": 9.457, "t": "Usando le freccine di navigazione potete tornare indietro"},
{"i": 1.375, "p": 9.291, "t": "facilmente fino a 30 aggiornamenti in modo da poter controllare"},
{"i": 1.375, "p": 9.125, "t": "l'evoluzione tecnica del titolo e come è stata seguito operativamente."},
{"i": 1.375, "p": 8.794, "t": "Poi c'e' anche lo storico di tutti i grafici dal 2019 sempre a disposizione"},
{"i": 1.375, "p": 8.628, "t": "nella sezione apposita."}
]},
"mark": {"type": "text", "font": "Liberation Sans", "fontSize": 10.8, "align": "left", "baseline": "middle", "color": "#000000"},
"encoding": {
"x": {"field": "i", "type": "quantitative", "scale": {"domain": [-0.6875, 277.54], "nice": false, "zero": false}, "axis": null},
"y": {"field": "p", "type": "quantitative", "scale": {"domain": [3.968, 14.3945], "nice": false, "zero": false}, "axis": null},
"text": {"field": "t"}
}
},
{
"data": {"values": [{"i": 148.93, "p": 14.173, "t": "COPYRIGHT@ LABORSADEIPICCOLI.COM"}]},
"mark": {"type": "text", "font": "Liberation Sans", "fontSize": 9.3, "fontWeight": "bold", "align": "center", "baseline": "middle", "color": "#000000"},
"encoding": {
"x": {"field": "i", "type": "quantitative", "scale": {"domain": [-0.6875, 277.54], "nice": false, "zero": false}, "axis": null},
"y": {"field": "p", "type": "quantitative", "scale": {"domain": [3.968, 14.3945], "nice": false, "zero": false}, "axis": null},
"text": {"field": "t"}
}
},
{
"data": {"values": [{"i": 119.1, "p": 14.3, "t": "FIAT CHRYSLER (10.1060, 10.2700, 10.1060, 10.2340, +0.19400)"}]},
"mark": {"type": "text", "font": "Liberation Sans", "fontSize": 8.3, "align": "left", "baseline": "middle", "color": "#555555"},
"encoding": {
"x": {"field": "i", "type": "quantitative", "scale": {"domain": [-0.6875, 277.54], "nice": false, "zero": false}, "axis": null},
"y": {"field": "p", "type": "quantitative", "scale": {"domain": [3.968, 14.3945], "nice": false, "zero": false}, "axis": null},
"text": {"field": "t"}
}
},
{
"data": {"name": "candles"},
"mark": {"type": "rule", "color": "#0000ff", "strokeWidth": 1.1},
"encoding": {
"x": {"field": "i", "type": "quantitative", "scale": {"domain": [-0.6875, 277.54], "nice": false, "zero": false},
 "axis": {"orient": "bottom", "title": null,
  "values": [5,23,45,65,86,106,127,148,171,191,213,236,256],
  "labelExpr": "['December','2025','February','March','April','May','June','July','August','September','October','November','December'][indexof([5,23,45,65,86,106,127,148,171,191,213,236,256], datum.value)]",
  "grid": false, "domain": false, "ticks": true, "tickSize": 22, "tickColor": "black", "tickWidth": 1,
  "labelAlign": "left", "labelBaseline": "top", "labelPadding": -8, "labelOffset": 2,
  "labelFontSize": 9, "labelColor": "#111", "labelOverlap": false, "labelFlush": false, "labelBound": false}},
"y": {"field": "v", "type": "quantitative", "scale": {"domain": [0, 41064], "nice": false, "zero": false},
 "axis": {"orient": "left", "title": null,
  "values": [100,200,300,400,500,600,700,800,900,1000,1100,1200,1300,1400,1500,1600,1700,1800,1900,2000,2100,2200,2300,2400,2500,2600,2700,2800,2900,3000,3100,3200,3300,3400,3500,3600,3700,3800,3900,4000,4100,4200,4300,4400,4500,4600,4700,4800,4900,5000,5100,5200,5300,5400,5500,5600,5700,5800,5900,6000,6100,6200,6300,6400,6500,6600,6700,6800,6900,7000,7100,7200,7300,7400,7500,7600,7700,7800,7900,8000,8100,8200,8300,8400,8500,8600,8700,8800,8900,9000,9100,9200,9300,9400,9500,9600,9700,9800,9900,10000,10100,10200,10300,10400],
  "labelExpr": "datum.value % 500 == 0 && datum.value <= 10000 ? '' + datum.value : ''",
  "grid": false, "domain": false, "tickColor": "black", "tickWidth": 1,
  "tickSize": {"condition": {"test": "datum.value % 500 == 0", "value": 4}, "value": 2},
  "labelPadding": 6, "labelFontSize": 8.5, "labelColor": "#111", "labelOverlap": false, "labelFlush": false, "labelBound": false}},
"y2": {"datum": 0}
}
},
{
"data": {"name": "candles"},
"mark": {"type": "line", "color": "#ff0000", "strokeWidth": 1.2},
"encoding": {
"x": {"field": "i", "type": "quantitative", "scale": {"domain": [-0.6875, 277.54], "nice": false, "zero": false}, "axis": null},
"y": {"field": "r", "type": "quantitative", "scale": {"domain": [0, 41064], "nice": false, "zero": false},
 "axis": {"orient": "right", "title": null,
  "values": [100,200,300,400,500,600,700,800,900,1000,1100,1200,1300,1400,1500,1600,1700,1800,1900,2000,2100,2200,2300,2400,2500,2600,2700,2800,2900,3000,3100,3200,3300,3400,3500,3600,3700,3800,3900,4000,4100,4200,4300,4400,4500,4600,4700,4800,4900,5000,5100,5200,5300,5400,5500,5600,5700,5800,5900,6000,6100,6200,6300,6400,6500,6600,6700,6800,6900,7000,7100,7200,7300,7400,7500,7600,7700,7800,7900,8000,8100,8200,8300,8400,8500,8600,8700,8800,8900,9000,9100,9200,9300,9400,9500,9600,9700,9800,9900,10000,10100,10200,10300,10400],
  "labelExpr": "datum.value % 500 == 0 && datum.value <= 10000 ? '' + datum.value : ''",
  "grid": false, "domain": false, "tickColor": "black", "tickWidth": 1,
  "tickSize": {"condition": {"test": "datum.value % 500 == 0", "value": 4}, "value": 2},
  "labelPadding": 4, "labelFontSize": 8.5, "labelColor": "#111", "labelOverlap": false, "labelFlush": false, "labelBound": false}}
}
},
{
"data": {"values": [{"v": 9365}, {"v": 2086}]},
"mark": {"type": "rule", "color": "#0000ff", "strokeWidth": 1.5},
"encoding": {
"y": {"field": "v", "type": "quantitative", "scale": {"domain": [0, 41064], "nice": false, "zero": false}, "axis": null}
}
},
{
"data": {"values": [{"v": 10485}, {"v": -513}]},
"mark": {"type": "rule", "color": "#000000", "strokeWidth": 1.5},
"encoding": {
"y": {"field": "v", "type": "quantitative", "scale": {"domain": [0, 41064], "nice": false, "zero": false}, "axis": null}
}
},
{
"data": {"values": [{"i": -3.96, "v": 190, "t": "x10000"}, {"i": 279.9, "v": 190, "t": "x10000"}]},
"mark": {"type": "text", "font": "Liberation Sans", "fontSize": 6, "align": "center", "baseline": "middle", "color": "#222222"},
"encoding": {
"x": {"field": "i", "type": "quantitative", "scale": {"domain": [-0.6875, 277.54], "nice": false, "zero": false}, "axis": null},
"y": {"field": "v", "type": "quantitative", "scale": {"domain": [0, 41064], "nice": false, "zero": false}, "axis": null},
"text": {"field": "t"}
}
}
]
}
